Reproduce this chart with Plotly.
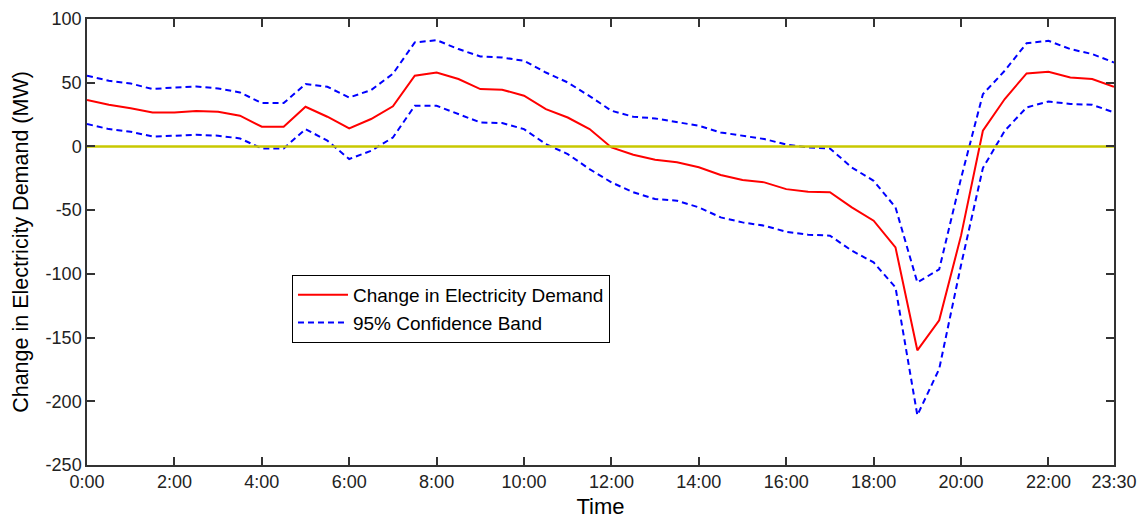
import plotly.graph_objects as go

# Time in hours (half-hour steps, 0:00 .. 23:30)
hours = [i * 0.5 for i in range(48)]

demand_change = [
    36.5, 32.7, 30.0, 26.7, 26.7, 27.8, 27.2, 24.1, 15.5, 15.5,
    31.1, 23.3, 14.2, 21.5, 31.5, 55.5, 58.0, 52.9, 45.0, 44.5,
    39.8, 29.3, 22.7, 13.6, -0.8, -6.5, -10.4, -12.5, -16.4, -22.4,
    -26.4, -28.2, -33.5, -35.5, -36.0, -47.8, -58.3, -79.2, -160.0, -136.5,
    -70.0, 12.3, 37.2, 57.3, 58.6, 54.1, 52.9, 46.8,
]

band_upper = [
    55.5, 51.5, 49.4, 45.0, 46.3, 47.0, 45.5, 42.4, 34.0, 34.0,
    49.0, 46.8, 38.4, 44.2, 57.0, 81.6, 83.4, 76.4, 70.6, 69.8,
    67.2, 58.0, 50.2, 39.5, 28.0, 23.3, 22.0, 18.8, 16.2, 11.0,
    8.4, 5.8, 1.5, -0.8, -1.6, -16.5, -27.0, -47.8, -106.7, -96.5,
    -25.0, 41.0, 59.4, 81.0, 82.9, 76.4, 72.5, 65.9,
]

band_lower = [
    17.6, 13.6, 11.5, 7.8, 8.4, 9.2, 8.4, 6.3, -1.6, -1.6,
    13.6, 4.5, -9.9, -3.4, 7.0, 31.9, 31.9, 25.4, 18.8, 18.3,
    13.6, 1.8, -6.0, -17.8, -28.2, -36.0, -41.3, -42.6, -47.8, -55.7,
    -59.6, -62.2, -67.0, -69.3, -70.0, -81.8, -91.0, -110.6, -211.0, -174.6,
    -93.0, -17.0, 12.3, 30.6, 35.3, 33.3, 32.7, 26.7,
]

zero_line = [0.0] * len(hours)

x_tick_vals = [0, 2, 4, 6, 8, 10, 12, 14, 16, 18, 20, 22, 23.5]
x_tick_text = ["0:00", "2:00", "4:00", "6:00", "8:00", "10:00", "12:00",
               "14:00", "16:00", "18:00", "20:00", "22:00", "23:30"]
y_tick_vals = [-250, -200, -150, -100, -50, 0, 50, 100]
y_tick_text = ["-250", "-200", "-150", "-100", "-50", "0", "50", "100"]

FONT = "Liberation Sans, Arial, sans-serif"

fig = go.Figure()
fig.add_trace(go.Scatter(
    x=hours, y=demand_change, mode="lines",
    name="Change in Electricity Demand",
    line=dict(color="#ff0000", width=2),
))
fig.add_trace(go.Scatter(
    x=hours, y=band_upper, mode="lines",
    name="95% Confidence Band",
    line=dict(color="#0000ff", width=2, dash="6px,4px"),
))
fig.add_trace(go.Scatter(
    x=hours, y=band_lower, mode="lines",
    name="95% Confidence Band", showlegend=False,
    line=dict(color="#0000ff", width=2, dash="6px,4px"),
))
fig.add_trace(go.Scatter(
    x=hours, y=zero_line, mode="lines",
    showlegend=False, hoverinfo="skip",
    line=dict(color="#c8c800", width=2.5),
))

axis_common = dict(
    showgrid=False, zeroline=False, automargin=False,
    showline=True, linecolor="#333333", linewidth=1.5, mirror="ticks",
    ticks="inside", ticklen=8, tickwidth=1.5, tickcolor="#333333",
    tickfont=dict(family=FONT, size=18, color="#222222"),
)

fig.update_layout(
    width=1140, height=519,
    margin=dict(l=87, r=26, t=19, b=54),
    plot_bgcolor="white", paper_bgcolor="white",
    font=dict(family=FONT, size=18, color="black"),
    xaxis=dict(
        range=[0, 23.5], tickvals=x_tick_vals, ticktext=x_tick_text,
        title=dict(text="Time", font=dict(family=FONT, size=22, color="black"), standoff=9),
        **axis_common,
    ),
    yaxis=dict(
        range=[-250, 100], tickvals=y_tick_vals, ticktext=y_tick_text,
        title=dict(text="Change in Electricity Demand (MW)",
                   font=dict(family=FONT, size=21.5, color="black"), standoff=11),
        **axis_common,
    ),
    legend=dict(
        x=0.1996, y=0.426, xanchor="left", yanchor="top",
        bgcolor="white", bordercolor="black", borderwidth=1,
        font=dict(family=FONT, size=19, color="black"),
        tracegroupgap=0, itemwidth=50,
    ),
    showlegend=True,
)

fig.write_html("out.html")
